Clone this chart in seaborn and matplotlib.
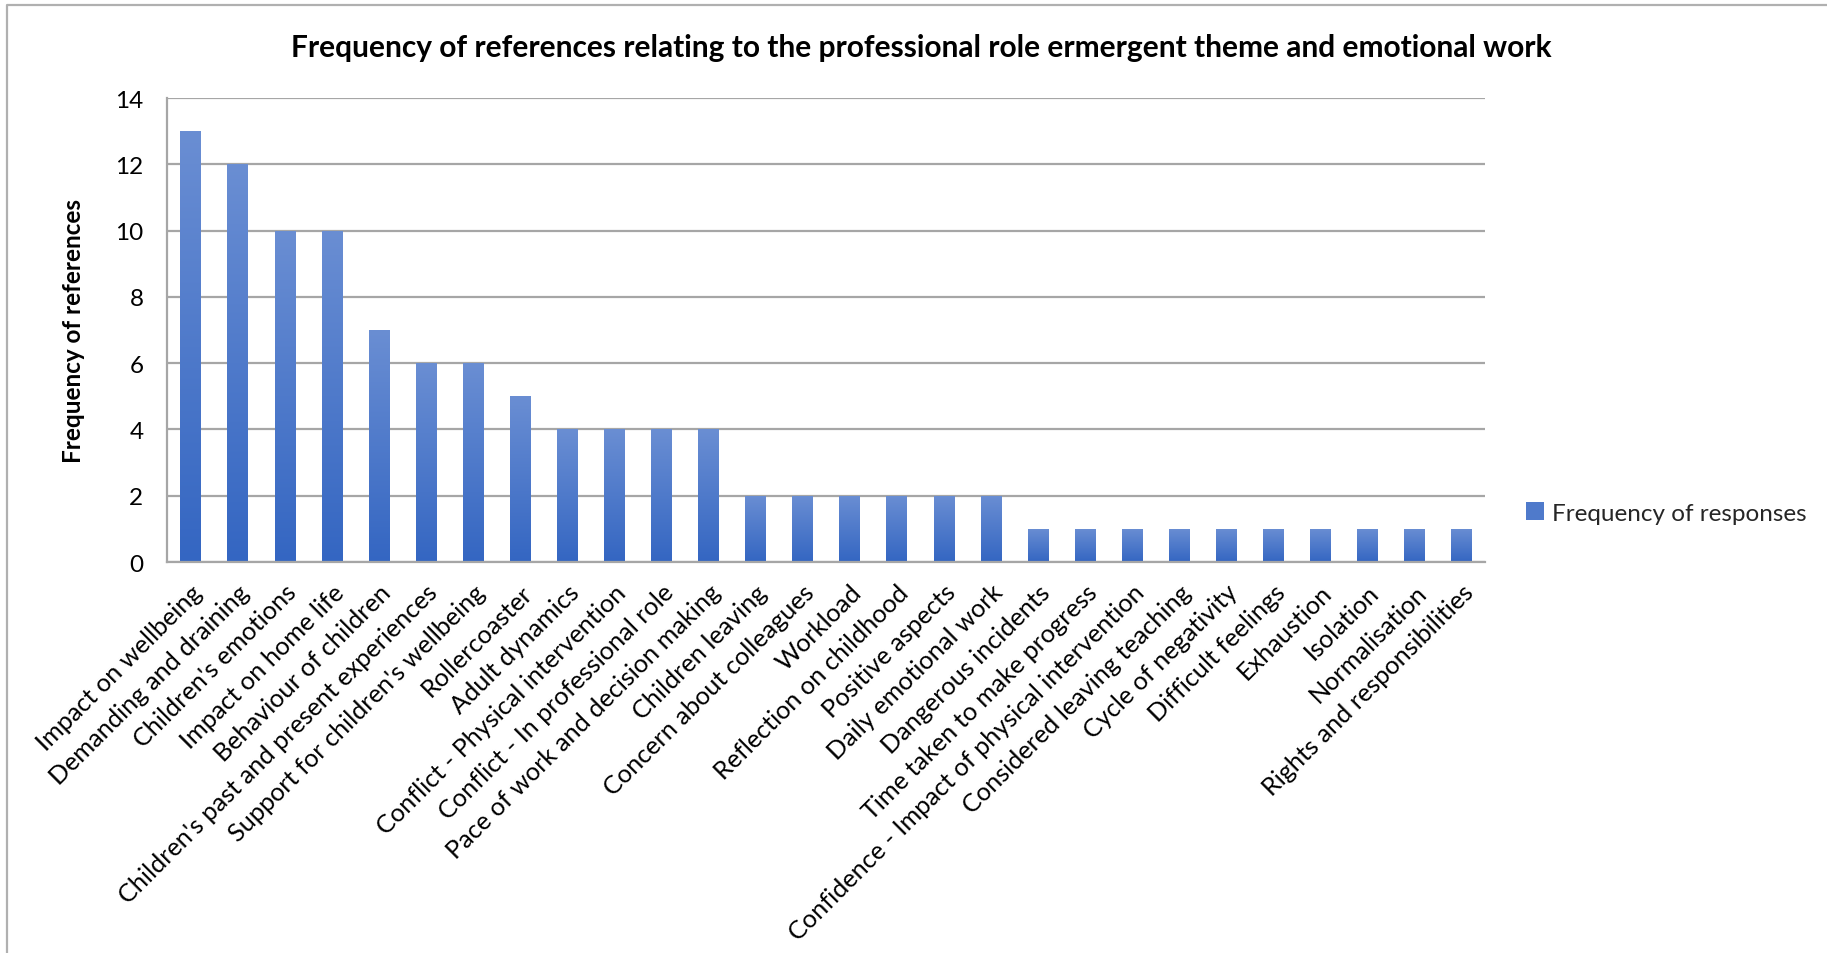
import numpy as np
import pandas as pd
import matplotlib
matplotlib.use("Agg")
import matplotlib.pyplot as plt
from matplotlib.patches import Patch
from matplotlib.lines import Line2D
from matplotlib.colors import LinearSegmentedColormap
import seaborn as sns

themes = [
    "Impact on wellbeing", "Demanding and draining", "Children's emotions",
    "Impact on home life", "Behaviour of children",
    "Children's past and present experiences", "Support for children's wellbeing",
    "Rollercoaster", "Adult dynamics", "Conflict - Physical intervention",
    "Conflict - In professional role", "Pace of work and decision making",
    "Children leaving", "Concern about colleagues", "Workload",
    "Reflection on childhood", "Positive aspects", "Daily emotional work",
    "Dangerous incidents", "Time taken to make progress",
    "Confidence - Impact of physical intervention", "Considered leaving teaching",
    "Cycle of negativity", "Difficult feelings", "Exhaustion", "Isolation",
    "Normalisation", "Rights and responsibilities",
]
counts = [13, 12, 10, 10, 7, 6, 6, 5, 4, 4, 4, 4, 2, 2, 2, 2, 2, 2,
          1, 1, 1, 1, 1, 1, 1, 1, 1, 1]
y_ticks = [0, 2, 4, 6, 8, 10, 12, 14]

title = "Frequency of references relating to the professional role ermergent theme and emotional work"
y_label = "Frequency of references"
series_name = "Frequency of responses"

df = pd.DataFrame({"theme": themes, "count": counts})

sns.set_theme(style="white")
plt.rcParams["font.family"] = ["Lato", "DejaVu Sans"]

W, H = 1827, 954
fig = plt.figure(figsize=(W / 100, H / 100), dpi=100)
fig.patch.set_facecolor("white")

left, right, top, bottom = 167, 1485, 99, 563
ax = fig.add_axes([left / W, 1 - bottom / H, (right - left) / W, (bottom - top) / H])

top_col = "#6A8ED3"
bot_col = "#3466C2"
sns.barplot(data=df, x="theme", y="count", color=bot_col, width=0.43,
            saturation=1, ax=ax, zorder=3)

# vertical gradient fill inside each bar
cmap = LinearSegmentedColormap.from_list("bar_grad", [bot_col, top_col])
grad = np.linspace(0, 1, 256).reshape(-1, 1)
for p in ax.patches:
    x0, w, h = p.get_x(), p.get_width(), p.get_height()
    im = ax.imshow(grad, cmap=cmap, origin="lower", aspect="auto",
                   extent=[x0, x0 + w, 0, h], zorder=3, interpolation="bilinear")
    im.set_clip_path(p)
    p.set_facecolor("none")
    p.set_edgecolor("none")
ax.set_xlim(-0.5, len(themes) - 0.5)
ax.set_ylim(0, 14)
ax.set_aspect("auto")

grid_col = "#A6A6A6"
ax.set_yticks(y_ticks)
ax.yaxis.grid(True, color=grid_col, linewidth=1.6, zorder=0)
ax.set_axisbelow(True)
for side in ["right", "top"]:
    ax.spines[side].set_visible(False)
ax.spines["left"].set_color(grid_col)
ax.spines["left"].set_linewidth(1.6)
ax.spines["bottom"].set_color(grid_col)
ax.spines["bottom"].set_linewidth(1.6)
ax.spines["bottom"].set_zorder(4)

ax.tick_params(axis="y", length=0, pad=17, labelsize=17.5, labelcolor="#000000")
ax.tick_params(axis="x", length=0, pad=13, labelsize=18.2, labelcolor="#000000")
ax.set_xticks(range(len(themes)))
ax.set_xticklabels(themes, rotation=45, ha="right", rotation_mode="anchor")

ax.set_xlabel("")
ax.set_ylabel(y_label, fontsize=17.5, fontweight="bold", color="#000000", labelpad=22)

fig.text(921 / W, 1 - 48 / H, title, ha="center", va="center",
         fontsize=21.5, fontweight="bold", color="#000000")

handle = Patch(facecolor="#4F7ACB", edgecolor="none")
fig.legend([handle], [series_name], loc="center left",
           bbox_to_anchor=(1526 / W, 1 - 514 / H), frameon=False,
           fontsize=17.5, handlelength=0.75, handleheight=0.75, handletextpad=0.3,
           borderaxespad=0, borderpad=0)

# outer chart frame (left and top edges)
fig.add_artist(Line2D([7 / W, 7 / W, 1.0], [0.0, 1 - 6 / H, 1 - 6 / H],
                      transform=fig.transFigure, color="#B0B0B0", linewidth=1.6))

fig.savefig("out.png", dpi=100, facecolor="white")
